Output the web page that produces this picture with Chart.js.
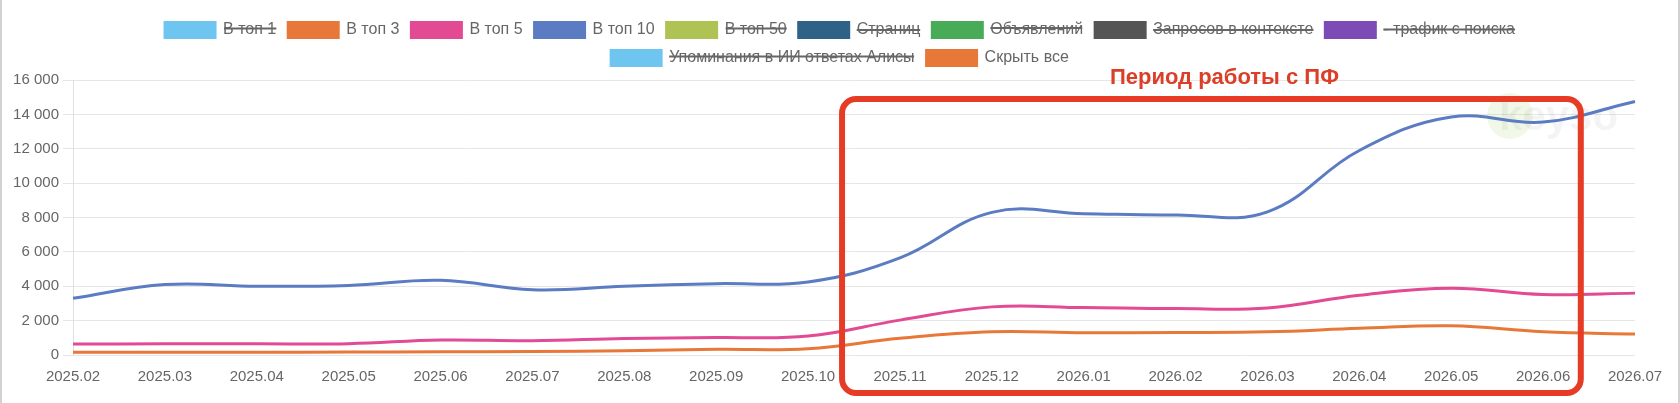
<!DOCTYPE html>
<html>
<head>
<meta charset="utf-8">
<script src="https://cdn.jsdelivr.net/npm/chart.js@4.4.1/dist/chart.umd.min.js"></script>
<style>
  html, body { margin: 0; padding: 0; background: #fff; }
  #wrap { width: 1680px; height: 403px; position: relative; }
  canvas { display: block; }
</style>
</head>
<body>
<div id="wrap"><canvas id="c" width="1680" height="403"></canvas></div>
<script>
const categories = ['2025.02','2025.03','2025.04','2025.05','2025.06','2025.07','2025.08','2025.09','2025.10','2025.11','2025.12','2026.01','2026.02','2026.03','2026.04','2026.05','2026.06','2026.07'];
const top3  = [155, 160, 160, 170, 190, 200, 250, 330, 370, 970, 1350, 1290, 1310, 1350, 1550, 1700, 1350, 1220];
const top5  = [640, 650, 650, 660, 870, 830, 960, 1020, 1100, 2030, 2800, 2760, 2700, 2740, 3480, 3890, 3520, 3600];
const top10 = [3300, 4100, 4000, 4050, 4350, 3800, 4000, 4150, 4250, 5650, 8300, 8220, 8150, 8330, 11900, 13850, 13550, 14750];
const yTicks = [0, 2000, 4000, 6000, 8000, 10000, 12000, 14000, 16000];
const annotationText = 'Период работы с ПФ';
const watermarkText = 'keyso';

function fmt(v) {
  return String(v).replace(/\B(?=(\d{3})+(?!\d))/g, ' ');
}

function ds(label, color, data, hidden) {
  return {
    label: label,
    data: data,
    borderColor: color,
    backgroundColor: color,
    borderWidth: 3,
    pointRadius: 0,
    pointHoverRadius: 0,
    tension: 0.4,
    fill: false,
    hidden: hidden
  };
}

const datasets = [
  ds('В топ 1', '#6ec6f0', [], true),
  ds('В топ 3', '#e8773a', top3, false),
  ds('В топ 5', '#e24a93', top5, false),
  ds('В топ 10', '#5b7bc2', top10, false),
  ds('В топ 50', '#afc254', [], true),
  ds('Страниц', '#2e6287', [], true),
  ds('Объявлений', '#47ab58', [], true),
  ds('Запросов в контексте', '#555555', [], true),
  ds('- трафик с поиска', '#7c4bb5', [], true),
  ds('Упоминания в ИИ ответах Алисы', '#6ec6f0', [], true),
  ds('Скрыть все', '#e8773a', [], false)
];

// make the legend wrap like the reference and leave a small gap below it
const LegendEl = Chart.Legend._element;
const origFit = LegendEl.prototype.fit;
LegendEl.prototype.fit = function () {
  const mw = this.maxWidth;
  this.maxWidth = Math.min(mw, 1500);
  origFit.call(this);
  this.maxWidth = mw;
  if (this.isHorizontal()) {
    this.width = mw;
    this.height += 4;
  }
};

const decor = {
  id: 'decor',
  beforeDatasetsDraw(chart) {
    const ctx = chart.ctx;
    const a = chart.chartArea;
    ctx.save();
    ctx.fillStyle = 'rgba(150, 200, 80, 0.13)';
    ctx.beginPath();
    ctx.arc(a.right - 125, a.top + 36, 23, 0, Math.PI * 2);
    ctx.fill();
    ctx.fillStyle = 'rgba(0, 0, 0, 0.045)';
    ctx.font = 'bold 42px "Liberation Sans", Arial, sans-serif';
    ctx.textBaseline = 'middle';
    ctx.textAlign = 'left';
    ctx.fillText(watermarkText, a.right - 136, a.top + 38);
    ctx.restore();
  },
  afterDraw(chart) {
    const ctx = chart.ctx;
    const a = chart.chartArea;
    const xs = chart.scales.x;
    const ys = chart.scales.y;
    const step = xs.getPixelForValue(1) - xs.getPixelForValue(0);
    const left = xs.getPixelForValue(9) - 0.63 * step;
    const right = xs.getPixelForValue(16) + 0.41 * step;
    const top = ys.getPixelForValue(14900);
    const bottom = a.bottom + 38;
    ctx.save();
    ctx.strokeStyle = '#e63b25';
    ctx.lineWidth = 6;
    ctx.beginPath();
    ctx.roundRect(left, top, right - left, bottom - top, 14);
    ctx.stroke();
    ctx.fillStyle = '#dc3f28';
    ctx.font = 'bold 22px "Liberation Sans", Arial, sans-serif';
    ctx.textAlign = 'center';
    ctx.textBaseline = 'middle';
    ctx.fillText(annotationText, (left + right) / 2 + 13, 78);
    ctx.fillStyle = '#d2d2d2';
    ctx.fillRect(0, 0, 2, chart.height);
    ctx.fillRect(chart.width - 2, 0, 2, chart.height);
    ctx.restore();
  }
};

Chart.defaults.font.family = '"Liberation Sans", Arial, Helvetica, sans-serif';
Chart.defaults.color = '#666';

new Chart(document.getElementById('c'), {
  type: 'line',
  data: { labels: categories, datasets: datasets },
  options: {
    responsive: false,
    animation: false,
    devicePixelRatio: 1,
    layout: { padding: { top: 10, right: 0, bottom: 0, left: 0 } },
    plugins: {
      legend: {
        display: true,
        position: 'top',
        labels: {
          font: { size: 16 },
          color: '#666',
          boxWidth: 50,
          boxHeight: 15,
          padding: 12
        }
      },
      tooltip: { enabled: false }
    },
    scales: {
      x: {
        grid: { display: false, drawTicks: false },
        border: { display: false },
        ticks: { font: { size: 15 }, color: '#666', padding: 13, maxRotation: 0, autoSkip: false },
        afterFit(scale) { scale.height = 48; }
      },
      y: {
        min: 0,
        max: 16000,
        afterBuildTicks(scale) { scale.ticks = yTicks.map(v => ({ value: v })); },
        grid: { color: '#e6e6e6', tickLength: 10, lineWidth: 1 },
        border: { display: true, color: '#e0e0e0' },
        ticks: { font: { size: 15 }, color: '#666', padding: 4, callback: (v) => fmt(v) },
        afterFit(scale) { scale.width = 73; }
      },
      spacer: {
        type: 'linear',
        position: 'right',
        display: true,
        min: 0,
        max: 1,
        grid: { display: false, drawTicks: false },
        border: { display: false },
        ticks: { display: false },
        afterFit(scale) { scale.width = 45; }
      }
    }
  },
  plugins: [decor]
});
</script>
</body>
</html>
